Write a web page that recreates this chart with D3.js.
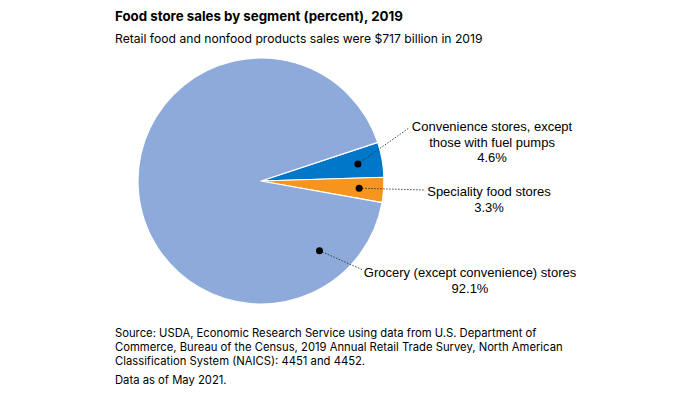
<!DOCTYPE html>
<html>
<head>
<meta charset="utf-8">
<script src="https://cdn.jsdelivr.net/npm/d3@7"></script>
<style>
  body { margin: 0; background: #fff; }
  svg text { fill: #000; }
</style>
</head>
<body>
<div id="chart"></div>
<script>
// Segment shares of food store sales, 2019 (percent)
var segments = ["Convenience stores, except those with fuel pumps", "Speciality food stores", "Grocery (except convenience) stores"];
var shares = [4.6, 3.3, 92.1];
var labelLines = [
    ["Convenience stores, except", "those with fuel pumps", "4.6%"],
    ["Speciality food stores", "3.3%"],
    ["Grocery (except convenience) stores", "92.1%"]
];
var colors = ["#0077c8", "#f7941e", "#8eaadb"];

var sourceLines = [
    "Source: USDA, Economic Research Service using data from U.S. Department of",
    "Commerce, Bureau of the Census, 2019 Annual Retail Trade Survey, North American",
    "Classification System (NAICS): 4451 and 4452."
];

var data = segments.map(function(s, i) {
    return { segment: s, share: shares[i], lines: labelLines[i], color: colors[i] };
});

var width = 700, height = 394;
var cx = 261, cy = 181, radius = 123;

var svg = d3.select("#chart").append("svg")
    .attr("width", width)
    .attr("height", height);

// Title and subtitle
svg.append("text")
    .attr("x", 115).attr("y", 20.5)
    .style("font-family", "Inter, 'Open Sans', sans-serif")
    .style("font-weight", 700)
    .style("font-size", "13.3px")
    .text("Food store sales by segment (percent), 2019");

svg.append("text")
    .attr("x", 115).attr("y", 43)
    .style("font-family", "Inter, 'Open Sans', sans-serif")
    .style("font-size", "12.15px")
    .text("Retail food and nonfood products sales were $717 billion in 2019");

// Pie starts so that the small slices sit just right of 3 o'clock
var startA = (90 - 18.3) * Math.PI / 180;
var pie = d3.pie()
    .sort(null)
    .value(function(d) { return d.share; })
    .startAngle(startA)
    .endAngle(startA + 2 * Math.PI);

var arc = d3.arc().innerRadius(0).outerRadius(radius);
var dotArc = d3.arc().innerRadius(radius * 0.8).outerRadius(radius * 0.8);

var g = svg.append("g").attr("transform", "translate(" + cx + "," + cy + ")");

var arcs = pie(data);

g.selectAll("path.slice")
    .data(arcs)
    .enter()
    .append("path")
    .attr("class", "slice")
    .attr("d", arc)
    .attr("fill", function(d) { return d.data.color; })
    .attr("stroke", "#fff")
    .attr("stroke-width", 1.2)
    .attr("stroke-linejoin", "round");

// Anchor dot for each slice; the big slice gets its dot toward lower right
function dotPos(d, i) {
    if (i === 2) {
        var a = (90 + 50) * Math.PI / 180;
        var r = radius * 0.74;
        return [Math.sin(a) * r, -Math.cos(a) * r];
    }
    var mid = (d.startAngle + d.endAngle) / 2;
    return dotArc.centroid({ startAngle: mid, endAngle: mid });
}

// Label anchor positions relative to the pie center
var labelPos = [[231, -50], [228, 15], [209, 96]];
var leaderEnd = [[148, -53], [164, 9], [102, 89]];

g.selectAll("line.leader")
    .data(arcs)
    .enter()
    .append("line")
    .attr("class", "leader")
    .attr("x1", function(d, i) { return dotPos(d, i)[0]; })
    .attr("y1", function(d, i) { return dotPos(d, i)[1]; })
    .attr("x2", function(d, i) { return leaderEnd[i][0]; })
    .attr("y2", function(d, i) { return leaderEnd[i][1]; })
    .attr("stroke", "#333")
    .attr("stroke-width", 0.9)
    .attr("stroke-dasharray", "1.5,1.5");

g.selectAll("circle.dot")
    .data(arcs)
    .enter()
    .append("circle")
    .attr("class", "dot")
    .attr("cx", function(d, i) { return dotPos(d, i)[0]; })
    .attr("cy", function(d, i) { return dotPos(d, i)[1]; })
    .attr("r", 3.5)
    .attr("fill", "#000");

var labels = g.selectAll("text.label")
    .data(arcs)
    .enter()
    .append("text")
    .attr("class", "label")
    .attr("text-anchor", "middle")
    .style("font-family", "'Liberation Sans', Arial, sans-serif")
    .style("font-size", "13px")
    .attr("transform", function(d, i) { return "translate(" + labelPos[i][0] + "," + labelPos[i][1] + ")"; });

labels.selectAll("tspan")
    .data(function(d) { return d.data.lines; })
    .enter()
    .append("tspan")
    .attr("x", 0)
    .attr("y", function(d, i) { return i * 15.7; })
    .text(function(d) { return d; });

// Source note
var note = svg.append("text")
    .style("font-family", "Inter, 'Open Sans', sans-serif")
    .style("font-size", "11.25px");

note.selectAll("tspan")
    .data(sourceLines)
    .enter()
    .append("tspan")
    .attr("x", 115)
    .attr("y", function(d, i) { return 337 + i * 14; });
note.selectAll("tspan").text(function(d) { return d; });

svg.append("text")
    .attr("x", 115).attr("y", 384)
    .style("font-family", "Inter, 'Open Sans', sans-serif")
    .style("font-size", "11.25px")
    .text("Data as of May 2021.");
</script>
</body>
</html>
